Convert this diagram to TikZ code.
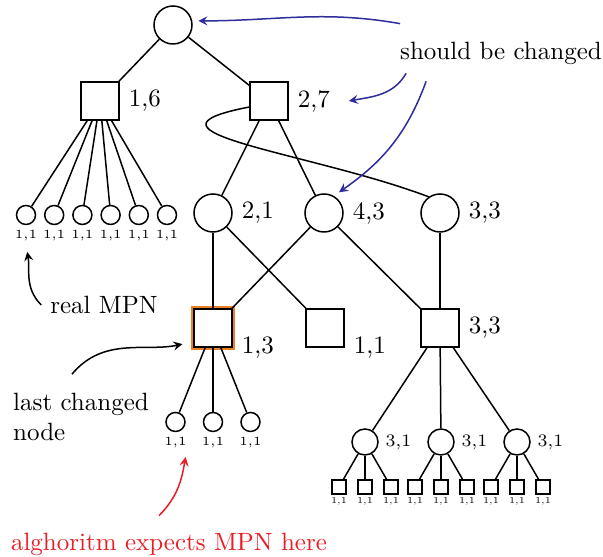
\documentclass[tikz,border=0pt]{standalone}
\usepackage{fontspec}
\usepackage{tikz}
\definecolor{chgblue}{RGB}{45,45,155}
\definecolor{hlorange}{RGB}{232,128,40}
\definecolor{mpnred}{RGB}{236,28,36}
\newcommand{\tinyl}{\fontsize{3.6pt}{4pt}\selectfont}

\begin{document}
\begin{tikzpicture}[x=0.4pt,y=0.4pt,semithick,>=stealth,
 bc/.style={draw,circle,inner sep=0pt,minimum size=15.2pt},
 bs/.style={draw,rectangle,inner sep=0pt,minimum size=15.2pt},
 mc/.style={draw,circle,inner sep=0pt,minimum size=10.4pt},
 lf/.style={draw,circle,inner sep=0pt,minimum size=7.6pt},
 sq/.style={draw,rectangle,inner sep=0pt,minimum size=5.6pt},
 small/.style={font=\tiny,inner sep=1.5pt},
 ptr/.style={->,chgblue}]
 \useasboundingbox (0,0) rectangle (603,557);

 % upper part of the tree
 \node[bc](root) at (173,532) {};
 \node[bs,label={right:1,6}](n16) at (100,456) {};
 \node[bs,label={[name=l27]right:2,7}](n27) at (269,456) {};
 \node[bc,label={right:2,1}](n21) at (213,344) {};
 \node[bc,label={right:4,3}](n43) at (324,344) {};
 \node[bc,label={right:3,3}](n33) at (440,344) {};
 \node[bs,label={[anchor=west]south east:1,3}](m13) at (213,229) {};
 \node[bs,label={[anchor=west]south east:1,1}](m11) at (325,229) {};
 \node[bs,label={right:3,3}](m33) at (440,229) {};
 \draw[hlorange,line width=1pt] ([shift={(-0.5pt,-0.5pt)}]m13.south west) rectangle ([shift={(0.5pt,0.5pt)}]m13.north east);

 \draw (root)--(n16);
 \draw (root)--(n27);
 \draw (n27)--(n21);
 \draw (n27)--(n43);
 \draw (n21)--(m13);
 \draw (n21)--(m11);
 \draw (n43)--(m13);
 \draw (n43)--(m33);
 \draw (n33)--(m33);
 \draw (n27.197) .. controls (120,425) and (310,405) .. (n33.125);

 % leaves
 \foreach \i in {1,...,6}{
  \node[lf,label={[small,name=la\i]below:1,1}](a\i) at ({26+28.2*(\i-1)},342) {};
  \draw (n16)--(a\i);
 }
 \foreach \dx [count=\i] in {-37.5,0,37.5}{
  \node[lf,label={[small,name=lb\i]below:1,1}](b\i) at (213+\dx,135) {};
  \draw (m13)--(b\i);
 }
 \foreach \x [count=\j] in {365,441,517}{
  \node[mc,label={[font=\scriptsize,inner sep=2.5pt]right:3,1}](c\j) at (\x,115) {};
  \draw (m33)--(c\j);
  \foreach \dx [count=\k] in {-26,0,26}{
   \node[sq,label={[font=\tinyl,inner sep=1pt]below:1,1}](d\j\k) at (\x+\dx,70) {};
   \draw (c\j)--(d\j\k);
  }
 }

 % notes
 \node(chg) at (501,504) {should be changed};
 \node(rmpn) at (104,252) {real MPN};
 \node[align=left](lcn) at (81,140) {last changed\\node};
 \node[text=mpnred](algo) at (169,13) {alghoritm expects MPN here};

 \draw[ptr] ([shift={(9,9)}]chg.north west) to[out=170,in=0] ([xshift=2.4pt]root.12);
 \draw[ptr] ([shift={(15,0)}]chg.south west) to[out=240,in=10] ([xshift=4pt]l27.east);
 \draw[ptr,shorten >=2.5pt] ([shift={(35,-8)}]chg.south west) to[out=250,in=35] (n43.60);
 \draw[->,shorten >=2.8pt] (rmpn.west) to[out=135,in=-80] (la1.south);
 \draw[->,shorten >=4.4pt] ([shift={(-9,10)}]lcn.north) to[out=50,in=192] (m13.215);
 \draw[->,mpnred,shorten >=2pt] ([shift={(-10,8)}]algo.north) to[out=45,in=-100] ([xshift=4.4pt]lb1.south);
\end{tikzpicture}
\end{document}
